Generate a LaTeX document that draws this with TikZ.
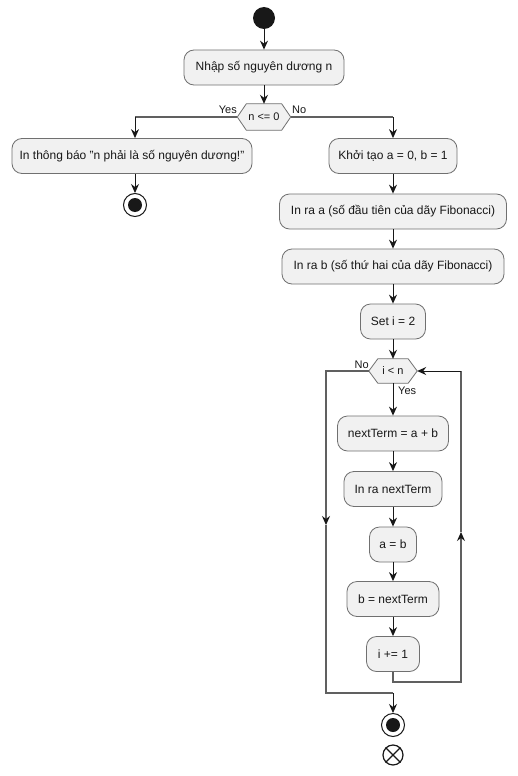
\documentclass[tikz,border=0pt]{standalone}
\usepackage{fontspec}
\setmainfont{Liberation Sans}
\usetikzlibrary{arrows.meta,backgrounds,calc}
\definecolor{boxfill}{HTML}{F1F1F1}
\definecolor{boxline}{HTML}{707070}
\definecolor{ink}{HTML}{181818}
\definecolor{grayline}{HTML}{606060}
\begin{document}
\begin{tikzpicture}[x=1pt,y=-1pt,
  act/.style={draw=boxline, fill=boxfill, rounded corners=10pt, line width=0.8pt,
    minimum height=35pt, inner sep=0pt, font=\fontsize{12}{14}\selectfont, text=ink},
  hexnode/.style={inner sep=0pt, font=\fontsize{11}{13}\selectfont, text=ink},
  arr/.style={draw=ink, line width=1pt, -{Stealth[length=9pt,width=8pt,inset=3pt]}},
  ln/.style={draw=grayline, line width=1.2pt},
  midtip/.style={-{Stealth[length=9pt,width=8pt,inset=3pt,color=ink]}},
  lbl/.style={font=\fontsize{11}{13}\selectfont, inner sep=0pt, text=ink},
  bull/.style={circle, draw=ink, line width=1pt, minimum size=23pt, inner sep=0pt},
  hexshape/.style={draw=boxline, fill=boxfill, line width=0.8pt}
]
\useasboundingbox (0,0) rectangle (518,776);

% nodes
\node[circle, fill=ink, minimum size=22pt, inner sep=0pt] (start) at (264,18) {};
\node[act, minimum width=160pt] (input) at (264,67.5) {Nhập số nguyên dương n};
\node[hexnode, minimum width=53pt, minimum height=26pt] (d1) at (264,117) {n <= 0};
\node[lbl, anchor=east] (yes1) at (237,110) {Yes};
\node[lbl, anchor=west] (no1) at (292,110) {No};

\node[act, minimum width=240pt] (err) at (132,156) {In thông báo "n phải là số nguyên dương!"};
\node[bull] (stop1) at (135,205) {};
\fill[ink] (stop1.center) circle (7);

\node[act, minimum width=128pt] (init) at (393,156) {Khởi tạo a = 0, b = 1};
\node[act, minimum width=227pt] (pa) at (393,211.5) {In ra a (số đầu tiên của dãy Fibonacci)};
\node[act, minimum width=222pt] (pb) at (393,266.5) {In ra b (số thứ hai của dãy Fibonacci)};
\node[act, minimum width=65pt] (seti) at (393,321.5) {Set i = 2};
\node[hexnode, minimum width=48pt, minimum height=24pt] (d2) at (393,371) {i < n};
\node[lbl, anchor=east] (no2) at (369,365) {No};
\node[lbl, anchor=west] (yes2) at (398,391) {Yes};
\node[act, minimum width=111pt] (nt) at (393,433.5) {nextTerm = a + b};
\node[act, minimum width=98pt] (pn) at (393,489) {In ra nextTerm};
\node[act, minimum width=47pt] (ab) at (393,544.5) {a = b};
\node[act, minimum width=92pt] (bn) at (393,599) {b = nextTerm};
\node[act, minimum width=53pt] (inc) at (393,654) {i += 1};

\node[bull] (fin) at (393,725) {};
\fill[ink] (fin.center) circle (7);
\node[circle, draw=ink, line width=1.2pt, minimum size=20pt, inner sep=0pt] (ff) at (393,755) {};
\draw[ink, line width=1.2pt] (ff.north west) -- (ff.south east);
\draw[ink, line width=1.2pt] (ff.north east) -- (ff.south west);

% hexagons
\begin{scope}[on background layer]
\fill[white] (0,0) rectangle (518,776);
\foreach \n in {d1,d2}{
  \draw[hexshape] (\n.west) -- ([xshift=9pt]\n.north west) -- ([xshift=-9pt]\n.north east)
    -- (\n.east) -- ([xshift=-9pt]\n.south east) -- ([xshift=9pt]\n.south west) -- cycle;
}
\end{scope}

% coordinates
\coordinate (jl) at (135,117);
\coordinate (jr) at (393,117);
\coordinate (rb) at (461,682);
\coordinate (rm) at (461,532);
\coordinate (rt) at (461,371);
\coordinate (lt) at (326,371);
\coordinate (lm) at (326,525);
\coordinate (lb) at (326,693);
\coordinate (bb) at (393,693);

% connectors
\draw[arr] (start) -- (input);
\draw[arr] (input) -- (d1);
\draw[ln] (d1.west) -- (jl);
\draw[arr] (jl) -- (jl |- err.north);
\draw[arr] (err.south -| stop1) -- (stop1.north);
\draw[ln] (d1.east) -- (jr);
\draw[arr] (jr) -- (init.north);
\draw[arr] (init) -- (pa);
\draw[arr] (pa) -- (pb);
\draw[arr] (pb) -- (seti);
\draw[arr] (seti) -- (d2);
\draw[arr] (d2) -- (nt);
\draw[arr] (nt) -- (pn);
\draw[arr] (pn) -- (ab);
\draw[arr] (ab) -- (bn);
\draw[arr] (bn) -- (inc);
\draw[ln, midtip] (inc.south) |- (rb) -- (rm);
\draw[ln] (rm) -- (rt);
\draw[arr] (rt) -- (d2.east);
\draw[ln, midtip] (d2.west) -- (lt) -- (lm);
\draw[ln] (lm) -- (lb) -- (bb);
\draw[arr] (bb) -- (fin.north);
\end{tikzpicture}
\end{document}
